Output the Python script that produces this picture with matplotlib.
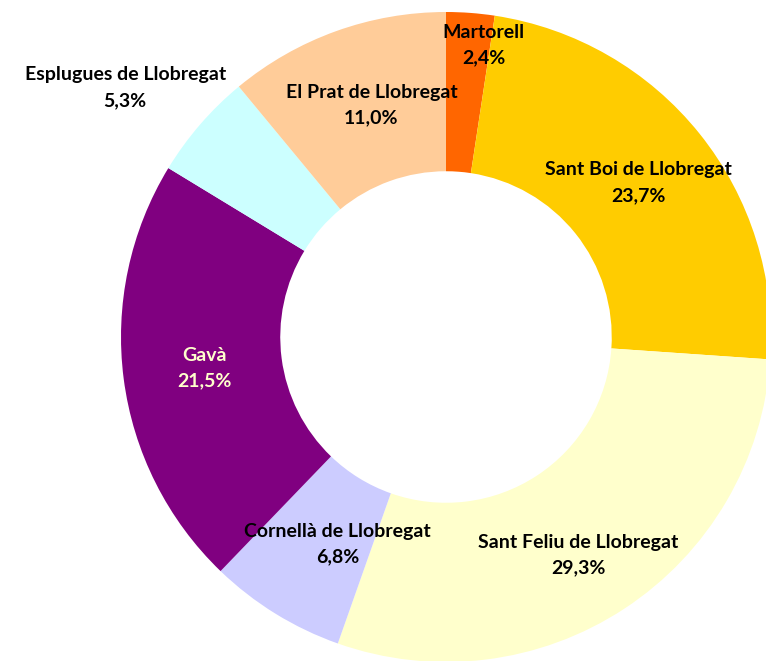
import matplotlib.pyplot as plt
import numpy as np

municipis = ["Martorell", "Sant Boi de Llobregat", "Sant Feliu de Llobregat",
             "Cornellà de Llobregat", "Gavà", "Esplugues de Llobregat",
             "El Prat de Llobregat"]
percent = [2.4, 23.7, 29.3, 6.8, 21.5, 5.3, 11.0]
colors = ["#FF6600", "#FFCC00", "#FFFFCC", "#CCCCFF", "#800080", "#CCFFFF", "#FFCC99"]

# label placement (radius factor, angle tweak in degrees)
lab_r = [0.905, 0.76, 0.785, 0.72, 0.75, 1.25, 0.75]
lab_da = [-3, 0, -2, 4, 0, 3, -2]
lab_col = ["black"] * 7
lab_col[4] = "#FFFFCC"

fig = plt.figure(figsize=(7.66, 6.61), dpi=100)
ax = fig.add_axes([0, 0, 1, 1])

R = 325.0
ax.pie(percent, colors=colors, startangle=90, counterclock=False, radius=1,
       wedgeprops=dict(width=0.49, linewidth=0))

cum = np.cumsum([0] + percent[:-1])
for i, name in enumerate(municipis):
    mid = 90 - (cum[i] + percent[i] / 2) * 3.6 + lab_da[i]
    x = lab_r[i] * np.cos(np.radians(mid))
    y = lab_r[i] * np.sin(np.radians(mid))
    txt = name + "\n" + ("%.1f%%" % percent[i]).replace(".", ",")
    ax.text(x, y, txt, ha="center", va="center", fontsize=14, fontweight="bold",
            family="Lato", color=lab_col[i], linespacing=1.6)

ax.set_xlim(-446 / R, (766 - 446) / R)
ax.set_ylim(-324 / R, (661 - 324) / R)
ax.set_aspect("auto")
ax.axis("off")

plt.savefig("out.png", dpi=100)
